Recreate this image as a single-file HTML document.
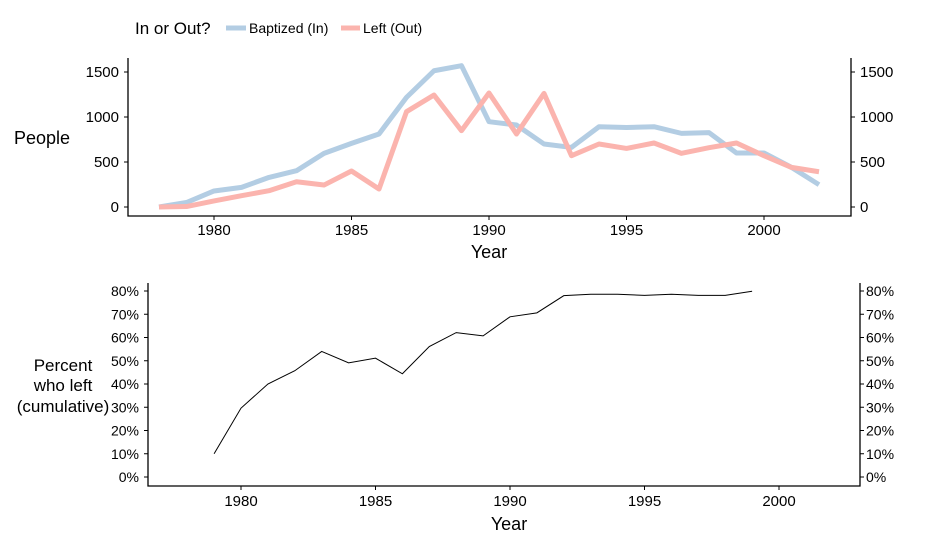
<!DOCTYPE html>
<html><head><meta charset="utf-8"><style>
body{margin:0;background:#fff;}
svg{display:block;font-family:"Liberation Sans",Arial,sans-serif;}
</style></head><body>
<svg id="chart" width="931" height="544" xmlns="http://www.w3.org/2000/svg">
<text x="135" y="34" font-size="17" fill="#000">In or Out?</text>
<line x1="226" y1="28" x2="246" y2="28" stroke="#b3cde3" stroke-width="5"/>
<text x="249" y="33" font-size="14">Baptized (In)</text>
<line x1="341" y1="28" x2="360" y2="28" stroke="#fbb4ae" stroke-width="5"/>
<text x="363" y="33" font-size="14">Left (Out)</text>
<text x="42" y="144" font-size="18" text-anchor="middle">People</text>
<text x="489" y="258" font-size="18" text-anchor="middle">Year</text>
<g font-size="17" text-anchor="middle">
<text x="63" y="371">Percent</text><text x="63" y="391">who left</text><text x="63" y="412">(cumulative)</text></g>
<text x="509" y="530" font-size="18" text-anchor="middle">Year</text>
<g id="topPanel"></g><g id="botPanel"></g>
</svg>
<script>
const years = [1978,1979,1980,1981,1982,1983,1984,1985,1986,1987,1988,1989,1990,1991,1992,1993,1994,1995,1996,1997,1998,1999,2000,2001,2002];
const baptized = [0,50,178,218,329,403,596,707,811,1218,1514,1570,948,911,700,662,892,884,892,818,826,600,600,440,248];
const leftOut = [0,5,67,126,181,281,244,400,200,1059,1244,848,1267,811,1262,570,700,651,711,596,659,711,570,440,392];
const pctYears = [1979,1980,1981,1982,1983,1984,1985,1986,1987,1988,1989,1990,1991,1992,1993,1994,1995,1996,1997,1998,1999];
const pctLeft = [10,29.6,40,45.7,54,49.1,51.1,44.4,56.1,62.1,60.7,68.9,70.6,78,78.6,78.6,78.1,78.6,78.1,78.1,79.9];
const xTicks = [1980,1985,1990,1995,2000];
const topYTicks = [0,500,1000,1500];
const botYTicks = [0,10,20,30,40,50,60,70,80];

const NS="http://www.w3.org/2000/svg";
function mk(parent,tag,attrs,text){const e=document.createElementNS(NS,tag);for(const k in attrs)e.setAttribute(k,attrs[k]);if(text!==undefined)e.textContent=text;parent.appendChild(e);return e;}

const tx = y => 214 + (y-1980)*27.5;
const ty = v => 207 - v*0.09;
const topG = document.getElementById('topPanel');
let e;
e=mk(topG,'path',{d:'M128,58 V216 H851 V58',fill:'none',stroke:'#000','stroke-width':1.3});


topYTicks.forEach(v=>{
  mk(topG,'line',{x1:124,x2:128,y1:ty(v),y2:ty(v),stroke:'#000'});
  mk(topG,'line',{x1:851,x2:855,y1:ty(v),y2:ty(v),stroke:'#000'});
  e=mk(topG,'text',{x:119,y:ty(v)+5,'font-size':15,'text-anchor':'end'},v);
  
  
  e=mk(topG,'text',{x:860,y:ty(v)+5,'font-size':15},v);
  
  
});
xTicks.forEach(y=>{
  mk(topG,'line',{x1:tx(y),x2:tx(y),y1:216,y2:220,stroke:'#000'});
  e=mk(topG,'text',{x:tx(y),y:235,'font-size':15,'text-anchor':'middle'},y);
  
  
});
e=mk(topG,'polyline',{points:years.map((y,i)=>tx(y)+','+ty(baptized[i])).join(' '),fill:'none',stroke:'#b3cde3','stroke-width':5,'stroke-linejoin':'round'});


e=mk(topG,'polyline',{points:years.map((y,i)=>tx(y)+','+ty(leftOut[i])).join(' '),fill:'none',stroke:'#fbb4ae','stroke-width':5,'stroke-linejoin':'round'});



const bx = y => 241 + (y-1980)*26.9;
const by = v => 477 - v*2.325;
const botG = document.getElementById('botPanel');
e=mk(botG,'path',{d:'M148,283 V486 H860 V283',fill:'none',stroke:'#000','stroke-width':1.3});


botYTicks.forEach(v=>{
  mk(botG,'line',{x1:144,x2:148,y1:by(v),y2:by(v),stroke:'#000'});
  mk(botG,'line',{x1:860,x2:864,y1:by(v),y2:by(v),stroke:'#000'});
  e=mk(botG,'text',{x:139,y:by(v)+5,'font-size':14,'text-anchor':'end'},v+'%');
  
  
  e=mk(botG,'text',{x:866,y:by(v)+5,'font-size':14},v+'%');
  
  
});
xTicks.forEach(y=>{
  mk(botG,'line',{x1:bx(y),x2:bx(y),y1:486,y2:490,stroke:'#000'});
  e=mk(botG,'text',{x:bx(y),y:506,'font-size':15,'text-anchor':'middle'},y);
  
  
});
e=mk(botG,'polyline',{points:pctYears.map((y,i)=>bx(y)+','+by(pctLeft[i])).join(' '),fill:'none',stroke:'#000','stroke-width':1});


</script>
</body></html>
